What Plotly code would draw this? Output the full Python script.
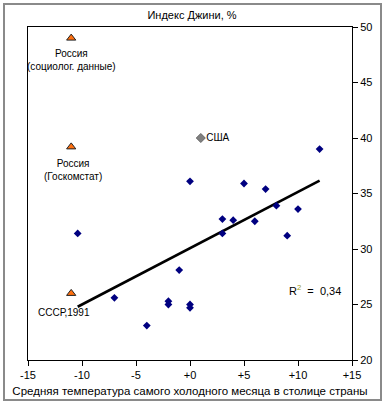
import numpy as np
import plotly.graph_objects as go

# --- data ---
country_x = [-10.4, 0, 3, 3, 4, 5, 6, 7, 8, 9, 10, 12, -1, -7, -2, -2, 0, 0, -4]
country_y = [31.4, 36.1, 32.7, 31.4, 32.6, 35.9, 32.5, 35.4, 33.9, 31.2, 33.6, 39.0,
             28.1, 25.6, 25.3, 25.0, 25.0, 24.7, 23.1]
usa_x = [1]
usa_y = [40.0]
russia_x = [-11, -11, -11]
russia_y = [49.0, 39.2, 26.0]
russia_labels = ["Россия<br>(социолог. данные)", "Россия<br>(Госкомстат)", "СССР,1991"]
x_tickvals = [-15, -10, -5, 0, 5, 10, 15]
x_ticktext = ["-15", "-10", "-5", "+0", "+5", "+10", "+15"]
y_tickvals = [20, 25, 30, 35, 40, 45, 50]
r2_text = "R<sup><span style='color:#a09a20'>2</span></sup>  =  0,34"

# trend line fitted on countries incl. USA
fx = np.array(country_x + usa_x)
fy = np.array(country_y + usa_y)
k, b = np.polyfit(fx, fy, 1)
tx = np.array([fx.min(), fx.max()])
ty = k * tx + b

FONT = "Liberation Sans, Arial, sans-serif"

fig = go.Figure()
fig.add_trace(go.Scatter(x=tx, y=ty, mode="lines",
                         line=dict(color="black", width=2.6), hoverinfo="skip"))
fig.add_trace(go.Scatter(x=country_x, y=country_y, mode="markers",
                         marker=dict(symbol="diamond", size=6, color="#000080",
                                     line=dict(width=0))))
fig.add_trace(go.Scatter(x=usa_x, y=usa_y, mode="markers+text", text=["США"],
                         textposition="middle right",
                         textfont=dict(family=FONT, size=10, color="black"),
                         marker=dict(symbol="diamond", size=7, color="#808080",
                                     line=dict(width=0.8, color="#555555"))))
fig.add_trace(go.Scatter(x=russia_x, y=russia_y, mode="markers",
                         marker=dict(symbol="triangle-up", size=8, color="#ff7010",
                                     line=dict(width=1, color="#222222"))))

# labels for the Russia / USSR points
shifts = [(0, -8), (2, -9), (-7, -12)]
for xv, yv, lab, (xs, ys) in zip(russia_x, russia_y, russia_labels, shifts):
    fig.add_annotation(x=xv, y=yv, text=lab, showarrow=False, xshift=xs, yshift=ys,
                       xanchor="center", yanchor="top",
                       font=dict(family=FONT, size=10, color="black"))

fig.add_annotation(x=9.0, y=26.3, text=r2_text, showarrow=False, xanchor="left",
                   yanchor="middle", font=dict(family=FONT, size=11, color="black"))

# outer grey frame
fig.add_shape(type="rect", xref="paper", yref="paper",
              x0=(4 - 28) / 324, x1=(381 - 28) / 324,
              y0=(360 - 400) / 333, y1=(360 - 4) / 333,
              line=dict(color="#8a8a8a", width=2), layer="above")

fig.update_layout(
    width=385, height=407,
    margin=dict(l=28, r=33, t=27, b=47),
    paper_bgcolor="white", plot_bgcolor="white",
    showlegend=False,
    font=dict(family=FONT, size=11, color="black"),
    title=dict(text="Индекс Джини, %", x=192 / 385, xanchor="center",
               xref="container", yref="container", y=1 - 15 / 407, yanchor="middle",
               font=dict(family=FONT, size=11, color="black")),
    xaxis=dict(range=[-15, 15], tickvals=x_tickvals, ticktext=x_ticktext,
               showgrid=False, zeroline=False, showline=True, linecolor="black",
               linewidth=1, mirror=True, ticks="outside", ticklen=5, automargin=False,
               tickcolor="black", tickfont=dict(family=FONT, size=11),
               title=dict(text="Средняя температура самого холодного месяца в столице страны",
                          font=dict(family=FONT, size=11.5), standoff=6)),
    yaxis=dict(range=[20, 50], tickvals=y_tickvals, side="right", automargin=False,
               showgrid=False, zeroline=False, showline=True, linecolor="black",
               linewidth=1, mirror=True, ticks="outside", ticklen=5,
               tickcolor="black", tickfont=dict(family=FONT, size=11)),
)

fig.write_html("out.html", config={"displayModeBar": False},
               post_script="document.body.style.margin='0';")
